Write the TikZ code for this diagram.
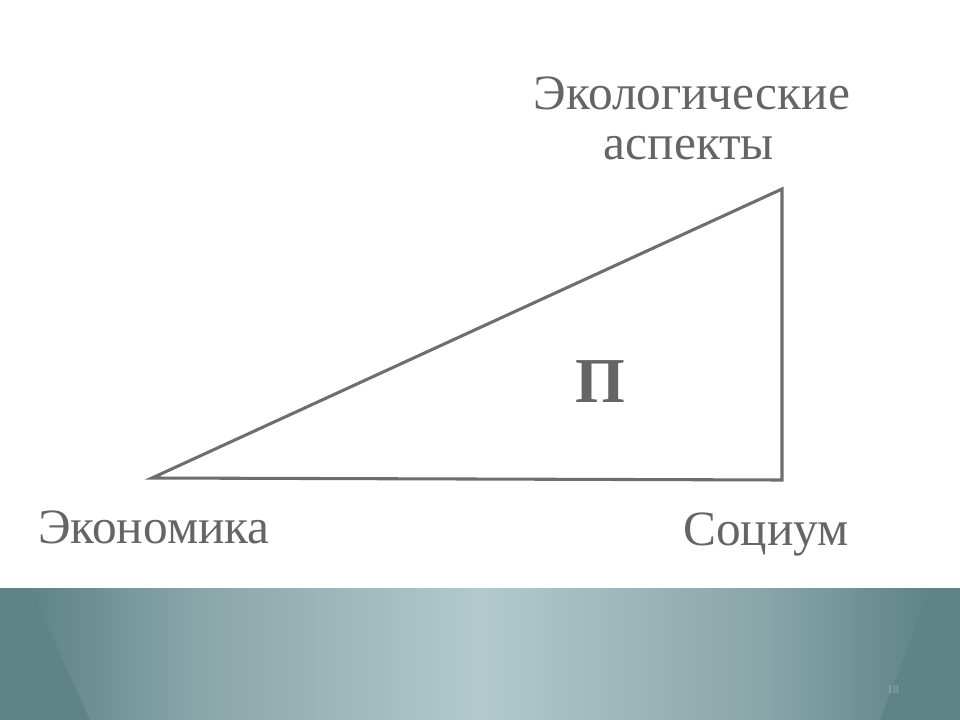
\documentclass[tikz,border=0pt]{standalone}
\usepackage{fontspec}
\setmainfont{Liberation Serif}
\definecolor{lineg}{HTML}{6E6E6E}
\definecolor{textg}{HTML}{656565}
\definecolor{banddark}{HTML}{5F8386}
\definecolor{bandmid}{HTML}{88A5A8}
\definecolor{bandlight}{HTML}{B2CACC}
\definecolor{numc}{HTML}{8DAEB1}
\pgfdeclarehorizontalshading{bandshade}{100bp}{
  color(0bp)=(banddark); color(25bp)=(banddark); color(34bp)=(bandmid);
  color(50bp)=(bandlight); color(66bp)=(bandmid); color(75bp)=(banddark);
  color(100bp)=(banddark)}
\begin{document}
\begin{tikzpicture}[x=0.75pt,y=-0.75pt,
  lbl/.style={text=textg,font=\fontsize{37}{40}\selectfont,anchor=base,inner sep=0pt},
  edge/.style={draw=lineg,line width=2.3pt,line join=miter}]
\useasboundingbox (0,0) rectangle (960,720);
\fill[white] (0,0) rectangle (960,720);
% bottom band
\fill[banddark] (0,588) rectangle (960,720);
\shade[shading=bandshade]
  (30,588) -- (930,588) -- (880,720) -- (90,720) -- cycle;
\node[text=numc,font=\fontsize{9}{10}\selectfont,anchor=base] (num) at (893,693) {18};
% triangle
\coordinate (E) at (152,478);
\coordinate (S) at (782,480);
\coordinate (T) at (782,189);
\draw[edge] (E) -- (T) -- (S) -- cycle;
% labels
\node[lbl] (eco1) at (692,110) {Экологические};
\node[lbl] (eco2) at (689,160) {аспекты};
\node[lbl] (econ) at (154,543) {Экономика};
\node[lbl] (soc) at (766,545) {Социум};
\node[lbl,font=\fontsize{48}{50}\selectfont\bfseries] (P) at (600,402) {П};
\end{tikzpicture}
\end{document}
